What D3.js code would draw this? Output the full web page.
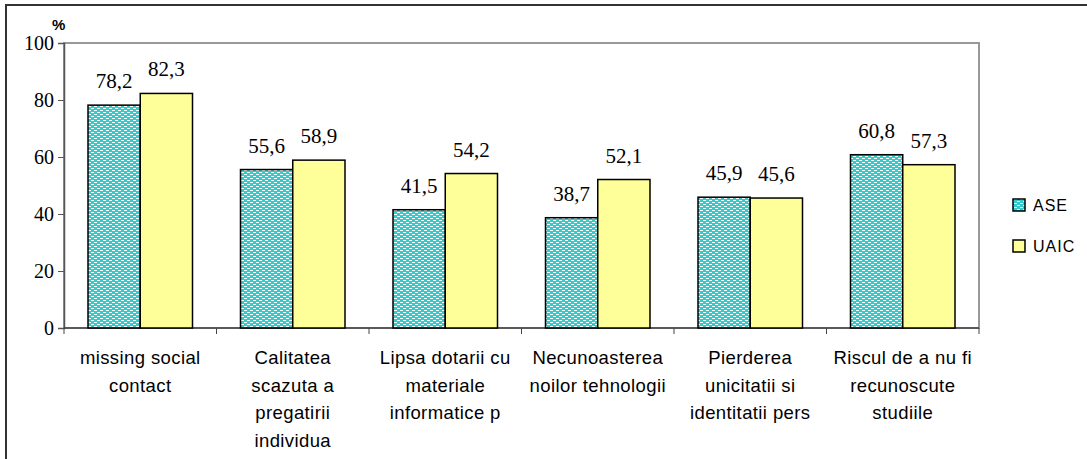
<!DOCTYPE html>
<html>
<head>
<meta charset="utf-8">
<script src="https://cdn.jsdelivr.net/npm/d3@7"></script>
<style>
  body { margin: 0; background: #fff; }
  .serif { font-family: 'Liberation Serif', 'Times New Roman', serif; }
  .sans { font-family: 'Liberation Sans', Arial, sans-serif; }
</style>
</head>
<body>
<div id="chart"></div>
<script>
var canvasWidth = 1087;
var canvasHeight = 459;

// data
var categories = [
    ["missing social", "contact"],
    ["Calitatea", "scazuta a", "pregatirii", "individua"],
    ["Lipsa dotarii cu", "materiale", "informatice p"],
    ["Necunoasterea", "noilor tehnologii"],
    ["Pierderea", "unicitatii si", "identitatii pers"],
    ["Riscul de a nu fi", "recunoscute", "studiile"]
];
var seriesNames = ["ASE", "UAIC"];
var aseValues = [78.2, 55.6, 41.5, 38.7, 45.9, 60.8];
var uaicValues = [82.3, 58.9, 54.2, 52.1, 45.6, 57.3];
var yTicks = [0, 20, 40, 60, 80, 100];

var svg = d3.select("#chart")
    .append("svg")
    .attr("width", canvasWidth)
    .attr("height", canvasHeight);

/*dotted pattern for ASE*/
var pat = svg.append("defs").append("pattern")
    .attr("id", "dots")
    .attr("patternUnits", "userSpaceOnUse")
    .attr("width", 6)
    .attr("height", 4);
pat.append("rect").attr("width", 6).attr("height", 4).attr("fill", "#33CCCC");
pat.append("rect").attr("x", 1).attr("y", 0).attr("width", 3).attr("height", 1).attr("fill", "#fff");
pat.append("rect").attr("x", 4).attr("y", 2).attr("width", 2).attr("height", 1).attr("fill", "#fff");
pat.append("rect").attr("x", 0).attr("y", 2).attr("width", 1).attr("height", 1).attr("fill", "#fff");

/*outer frame*/
svg.append("rect")
    .attr("x", 6).attr("y", 5)
    .attr("width", 1200).attr("height", 600)
    .attr("fill", "none")
    .attr("stroke", "#333")
    .attr("stroke-width", 2);

var plotLeft = 64, plotRight = 979, plotTop = 43, plotBottom = 328;

var xScale = d3.scaleBand()
    .domain(d3.range(categories.length))
    .range([plotLeft, plotRight])
    .paddingInner(0)
    .paddingOuter(0);
var groupPad = 24;
var xSub = d3.scaleBand()
    .domain(seriesNames)
    .range([groupPad, xScale.bandwidth() - groupPad]);
var yScale = d3.scaleLinear().domain([0, 100]).range([plotBottom, plotTop]);
var color = d3.scaleOrdinal().domain(seriesNames).range(["url(#dots)", "#FFFF99"]);

/*plot area*/
svg.append("rect")
    .attr("x", plotLeft).attr("y", plotTop)
    .attr("width", plotRight - plotLeft).attr("height", plotBottom - plotTop)
    .attr("fill", "none")
    .attr("stroke", "#999")
    .attr("stroke-width", 2);

/*Y axis*/
var yAxis = svg.append("g")
    .attr("transform", "translate(" + plotLeft + ",0)")
    .call(d3.axisLeft(yScale).tickValues(yTicks).tickSize(6).tickPadding(4).tickFormat(d3.format("d")));
yAxis.attr("font-family", null).attr("font-size", null);
yAxis.select(".domain").attr("stroke", "#555").attr("stroke-width", 1.5);
yAxis.selectAll(".tick line").attr("stroke", "#555");
yAxis.selectAll("text")
    .attr("class", "serif")
    .style("font-size", "20px")
    .attr("fill", "#000");

svg.append("text")
    .attr("class", "sans")
    .attr("x", 52).attr("y", 30)
    .attr("font-weight", "bold")
    .style("font-size", "15px")
    .text("%");

/*X axis*/
var xAxis = svg.append("g")
    .attr("transform", "translate(0," + plotBottom + ")");
xAxis.append("line")
    .attr("x1", plotLeft).attr("x2", plotRight)
    .attr("stroke", "#444").attr("stroke-width", 1.5);
xAxis.selectAll(".xtick")
    .data(d3.range(categories.length + 1))
    .join("line")
    .attr("x1", function(d){ return plotLeft + d * xScale.bandwidth(); })
    .attr("x2", function(d){ return plotLeft + d * xScale.bandwidth(); })
    .attr("y1", 0).attr("y2", 6)
    .attr("stroke", "#444");

var catLabels = svg.append("g").selectAll(".cat")
    .data(categories)
    .join("text")
    .attr("class", "sans")
    .attr("text-anchor", "middle")
    .style("font-size", "18.5px")
    .attr("letter-spacing", 0.4)
    .attr("fill", "#000");
catLabels.each(function(d, i){
    var t = d3.select(this);
    d.forEach(function(line, j){
        t.append("tspan")
            .attr("x", xScale(i) + xScale.bandwidth() / 2)
            .attr("y", 364 + j * 27.5)
            .text(line);
    });
});

/*bars*/
var rows = [];
categories.forEach(function(c, i){
    rows.push({cat: i, s: "ASE", v: aseValues[i]});
    rows.push({cat: i, s: "UAIC", v: uaicValues[i]});
});

var fmt = function(v){ return d3.format(".1f")(v).replace(".", ","); };

svg.append("g").selectAll("rect")
    .data(rows)
    .join("rect")
    .attr("x", function(d){ return xScale(d.cat) + xSub(d.s); })
    .attr("y", function(d){ return yScale(d.v); })
    .attr("width", xSub.bandwidth())
    .attr("height", function(d){ return plotBottom - yScale(d.v); })
    .attr("fill", function(d){ return color(d.s); })
    .attr("stroke", "#000")
    .attr("stroke-width", 1.5);

svg.append("g").selectAll("text")
    .data(rows)
    .join("text")
    .attr("class", "serif")
    .attr("x", function(d){ return xScale(d.cat) + xSub(d.s) + xSub.bandwidth() / 2; })
    .attr("y", function(d){ return yScale(d.v) - 17; })
    .attr("text-anchor", "middle")
    .style("font-size", "21px")
    .text(function(d){ return fmt(d.v); });

/*legend*/
var legend = svg.append("g").selectAll(".leg")
    .data(seriesNames)
    .join("g")
    .attr("transform", function(d, i){ return "translate(1013," + (199 + i * 41) + ")"; });
legend.append("rect")
    .attr("width", 12).attr("height", 12)
    .attr("fill", function(d){ return color(d); })
    .attr("stroke", "#000")
    .attr("stroke-width", 1.5);
legend.append("text")
    .attr("class", "sans")
    .attr("x", 20).attr("y", 12)
    .style("font-size", "16px")
    .attr("letter-spacing", 1)
    .text(function(d){ return d; });
</script>
</body>
</html>
